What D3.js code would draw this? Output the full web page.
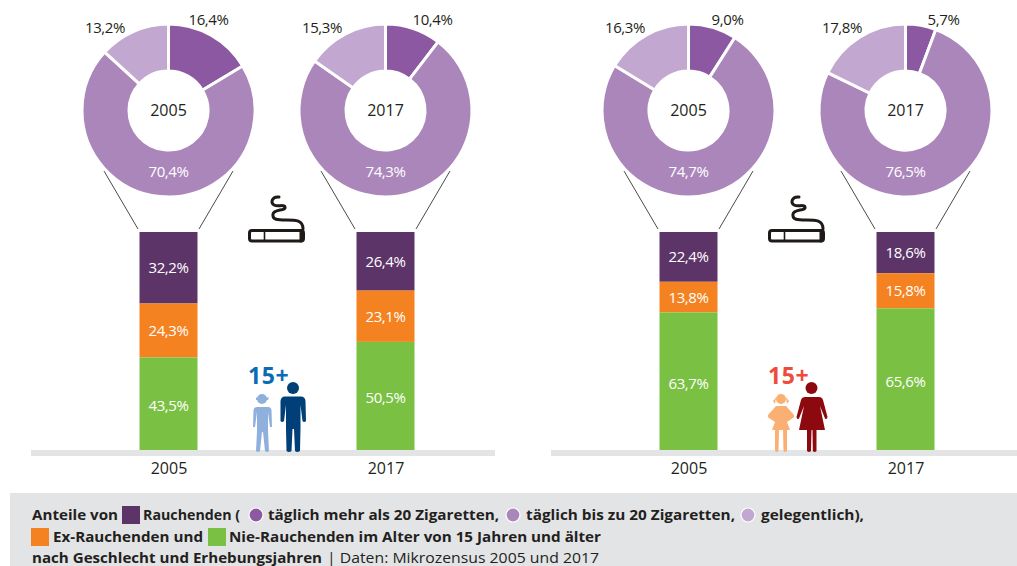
<!DOCTYPE html>
<html><head><meta charset="utf-8">
<script src="https://cdn.jsdelivr.net/npm/d3@7/dist/d3.min.js"></script>
<style>html,body{margin:0;padding:0;background:#fff;overflow:hidden}svg{display:block}text{font-family:"Open Sans",sans-serif}</style>
</head><body><svg id="c" width="1017" height="566"></svg>
<script>
const years = ["2005","2017"];
const barSeries = ["Rauchende","Ex-Rauchende","Nie-Rauchende"];
const menBars2005 = [32.2,24.3,43.5];
const menBars2017 = [26.4,23.1,50.5];
const womenBars2005 = [22.4,13.8,63.7];
const womenBars2017 = [18.6,15.8,65.6];
const pieSeries = ["täglich mehr als 20","täglich bis zu 20","gelegentlich"];
const menPie2005 = [16.4,70.4,13.2];
const menPie2017 = [10.4,74.3,15.3];
const womenPie2005 = [9.0,74.7,16.3];
const womenPie2017 = [5.7,76.5,17.8];

const barColors = ["#5c3468","#f58220","#7ac143"];
const pieColors = ["#8c58a1","#ab86bb","#c2a8d1"];
const inkColor = "#231f20", bandColor = "#e3e4e6";
const firstLabelDx = [[40,47],[39,38]];
const fmt = v => v.toFixed(1).replace(".",",")+"%";

const svg = d3.select("#c");
const panels = [
  {bars:[menBars2005,menBars2017],pies:[menPie2005,menPie2017],left:31,right:495,dx:0,tag:"#0a6cb3"},
  {bars:[womenBars2005,womenBars2017],pies:[womenPie2005,womenPie2017],left:551,right:1017,dx:520,tag:"#ef4b3a"}
];
const x = d3.scalePoint().domain(years).range([168.5,385.5]);
const y = d3.scaleLinear().domain([0,100]).range([454,232]);
const barW = 58, R = 86.5, r = 39.5, cy = 110.5;
const pie = d3.pie().sort(null).value(d=>d);
const arc = d3.arc().innerRadius(r).outerRadius(R);

panels.forEach((p,pi)=>{
  const g = svg.append("g").attr("transform",`translate(${p.dx},0)`);
  years.forEach((yr,i)=>{
    const cx = x(yr);
    [-1,1].forEach(s=>g.append("line").attr("x1",cx+s*64.5).attr("y1",171).attr("x2",cx+s*30.5).attr("y2",229)
      .attr("stroke","#4a4a4a").attr("stroke-width",1));
    let acc = 0;
    const stack = p.bars[i].map((v,k)=>{const o={v,k,y0:acc,y1:acc+v};acc+=v;return o;});
    const yb = y.copy().domain([acc,0]);
    stack.forEach(s=>{
      g.append("rect").attr("x",cx-barW/2).attr("width",barW).attr("y",yb(s.y0)).attr("height",yb(s.y1)-yb(s.y0)).attr("fill",barColors[s.k]);
      g.append("text").attr("x",cx).attr("y",(yb(s.y0)+yb(s.y1))/2+5.5).attr("text-anchor","middle")
        .attr("font-size",15).attr("letter-spacing",-0.4).attr("fill","#fff").text(fmt(s.v));
    });
    const dg = g.append("g").attr("transform",`translate(${cx},${cy})`);
    dg.selectAll("path").data(pie(p.pies[i])).join("path").attr("d",arc).attr("fill",(d,k)=>pieColors[k])
      .attr("stroke","#fff").attr("stroke-width",3);
    dg.append("text").attr("y",5.5).attr("text-anchor","middle").attr("font-size",16).attr("fill",inkColor).text(yr);
    dg.append("text").attr("y",66).attr("text-anchor","middle").attr("font-size",15).attr("letter-spacing",-0.4).attr("fill","#fff").text(fmt(p.pies[i][1]));
    dg.append("text").attr("x",firstLabelDx[pi][i]).attr("y",-86).attr("text-anchor","middle").attr("font-size",15).attr("letter-spacing",-0.4).attr("fill",inkColor).text(fmt(p.pies[i][0]));
    dg.append("text").attr("x",-63.5).attr("y",-78).attr("text-anchor","middle").attr("font-size",15).attr("letter-spacing",-0.4).attr("fill",inkColor).text(fmt(p.pies[i][2]));
  });
  svg.append("rect").attr("x",p.left).attr("y",450).attr("width",p.right-p.left).attr("height",6).attr("fill",bandColor);
  const ax = svg.append("g").attr("transform",`translate(${p.dx},456)`).call(d3.axisBottom(x).tickSize(0).tickPadding(7));
  ax.select(".domain").remove();
  ax.selectAll("text").attr("font-size",16).attr("fill",inkColor).style("font-family",'"Open Sans",sans-serif');

  const ic = g.append("g").attr("fill","none").attr("stroke","#1f1a17").attr("stroke-width",3).attr("stroke-linecap","round").attr("stroke-linejoin","round");
  ic.append("rect").attr("x",249.5).attr("y",230.5).attr("width",54).attr("height",10.5).attr("rx",2.5);
  ic.append("path").attr("d","M264.5 230.500V241").attr("stroke-width",1.6);
  ic.append("path").attr("d","M301 230.500V241");
  ic.append("path").attr("d","M279 197C272 196 270 203 274 205C278 207 284 204 285 207C286 211 274 209 273 214C272 220 278 220 286 220C296 220 303 220 303 229");
  g.append("text").attr("x",248).attr("y",384).attr("font-size",23).attr("font-weight",700).attr("letter-spacing",0.6).attr("fill",p.tag).text("15+");
});

// boy and man
const boyMan = svg.append("g");
boyMan.append("circle").attr("cx",262).attr("cy",399).attr("r",5).attr("fill","#8fb0dd");
boyMan.append("path").attr("d","M256 397.500H269L268 400H256Z").attr("fill","#8fb0dd");
boyMan.append("path").attr("fill","#8fb0dd").attr("d","M257 407H268Q271 407 271.500 410L272 427H270L268 412V431L269 451Q267 453 265 451L263 432H262L260 451Q258 453 256 451L257 431V412L255 427H253L253.500 410Q254 407 257 407Z");
boyMan.append("circle").attr("cx",293).attr("cy",388).attr("r",6).attr("fill","#003f77");
boyMan.append("path").attr("fill","#003f77").attr("d","M285 396.500H301Q305 396.500 305.500 401L306 421Q304 423 302.500 421L300.500 405V428L300 451Q297 453 295 451L294 429H292.500L291.500 451Q289 453 286.500 451L286 428V405L284 421Q282 423 280.500 421L280.500 401Q281 396.500 285 396.500Z");

// girl and woman
const girlWoman = svg.append("g");
girlWoman.append("circle").attr("cx",781).attr("cy",399).attr("r",5).attr("fill","#fbb073");
girlWoman.append("path").attr("fill","#fbb073").attr("d","M776 397L773 401L775 404ZM786 397L789 401L787 404Z");
girlWoman.append("path").attr("fill","#fbb073").attr("d","M776 406H786L794 415Q795 417 793 418L787 422L790 430H787L787 451Q785 453 783.500 451L783 430H779L778.500 451Q777 453 775 451L775 430H772L775 422L769 418Q767 417 768 415Z");
girlWoman.append("circle").attr("cx",811.5).attr("cy",388).attr("r",6).attr("fill","#8c0a0f");
girlWoman.append("path").attr("fill","#8c0a0f").attr("d","M805 397H819Q822 397 823 400L827.500 417Q827 420 825 418.500L820 406L825 430H816.500L816.500 451Q814.500 453 812.800 451L812.500 430H811.500L811 451Q809 453 807 451L807 430H799L804 406L799 418.500Q797 420 796.500 417L801 400Q802 397 805 397Z");

// footer
svg.append("rect").attr("x",10).attr("y",493).attr("width",1007).attr("height",73).attr("fill",bandColor);
const footerFont = 14;
function ft(xp,yp,s,w,weight){
  svg.append("text").attr("x",xp).attr("y",yp).attr("font-size",footerFont).attr("font-weight",weight||700).attr("fill",inkColor)
    .attr("textLength",w).attr("lengthAdjust","spacingAndGlyphs").text(s);
}
function sw(xp,yp,c){svg.append("rect").attr("x",xp).attr("y",yp).attr("width",18).attr("height",18).attr("fill",c);}
function dot(xp,c){svg.append("circle").attr("cx",xp).attr("cy",515).attr("r",7).attr("fill",c).attr("stroke","#fff").attr("stroke-width",1.2);}
ft(32,520,"Anteile von",86);
sw(122,506,barColors[0]);
ft(143,520,"Rauchenden (",97);
dot(256,pieColors[0]);
ft(268,520,"täglich mehr als 20 Zigaretten,",231);
dot(513,pieColors[1]);
ft(526,520,"täglich bis zu 20 Zigaretten,",209);
dot(748,pieColors[2]);
ft(761,520,"gelegentlich),",103);
sw(31,528,barColors[1]);
ft(53,542,"Ex-Rauchenden und",150);
sw(208,528,barColors[2]);
ft(229,542,"Nie-Rauchenden im Alter von 15 Jahren und älter",372);
ft(32,562.5,"nach Geschlecht und Erhebungsjahren",290);
ft(327,562.5,"| Daten: Mikrozensus 2005 und 2017",272,400);
</script></body></html>
